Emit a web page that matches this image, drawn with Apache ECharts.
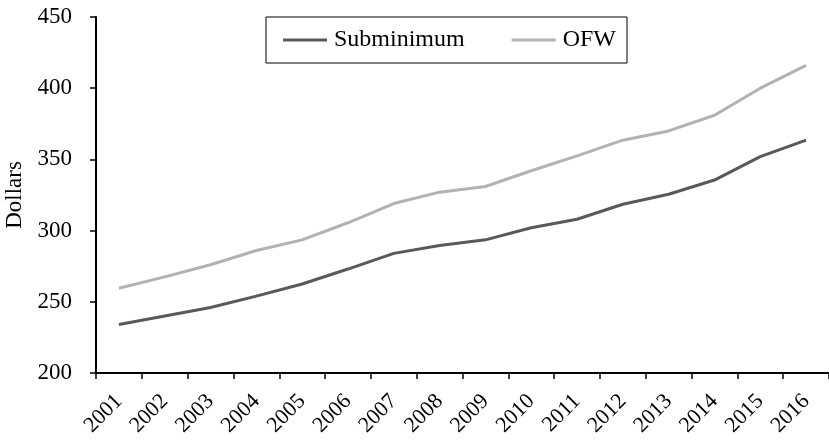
<!DOCTYPE html>
<html>
<head>
<meta charset="utf-8">
<script src="https://cdn.jsdelivr.net/npm/echarts@6/dist/echarts.min.js"></script>
<style>html,body{margin:0;padding:0;background:#fff;}#c{width:829px;height:440px;}</style>
</head>
<body>
<div id="c"></div>
<script>
const years = ['2001','2002','2003','2004','2005','2006','2007','2008','2009','2010','2011','2012','2013','2014','2015','2016'];
const subminimum = [234, 240, 246, 254, 262.5, 273, 284, 289.5, 293.5, 302, 308, 318.5, 325.5, 335.5, 352, 363.5];
const ofw = [259.5, 267.5, 276, 286, 293.5, 305.5, 319, 327, 331, 342, 352.5, 363.5, 370, 381, 400, 416];
const yTicks = { min: 200, max: 450, interval: 50 };

const FONT = '"Liberation Serif", "Times New Roman", serif';
const chart = echarts.init(document.getElementById('c'), null, { renderer: 'canvas' });
chart.setOption({
  animation: false,
  backgroundColor: '#fff',
  grid: { left: 96, right: 0, top: 17, bottom: 67, containLabel: false, outerBoundsMode: 'none' },
  legend: {
    left: 266, top: 17,
    padding: [11, 11, 11, 17],
    borderColor: '#000', borderWidth: 1,
    itemWidth: 44, itemHeight: 3, itemGap: 47,
    icon: 'rect',
    textStyle: { fontFamily: FONT, fontSize: 24, color: '#000', padding: [0, 0, 0, 2] },
    data: ['Subminimum', 'OFW']
  },
  xAxis: {
    type: 'category',
    data: years,
    boundaryGap: true,
    axisLine: { lineStyle: { color: '#000', width: 2 } },
    axisTick: { show: true, length: 6, lineStyle: { color: '#000', width: 1.5 } },
    axisLabel: { rotate: 45, color: '#000', fontFamily: FONT, fontSize: 22, margin: 25, interval: 0, hideOverlap: false },
    splitLine: { show: false }
  },
  yAxis: {
    type: 'value',
    min: yTicks.min, max: yTicks.max, interval: yTicks.interval,
    name: 'Dollars',
    nameLocation: 'middle',
    nameRotate: 90,
    nameGap: 65,
    nameTextStyle: { fontFamily: FONT, fontSize: 23, color: '#000' },
    axisLine: { show: true, lineStyle: { color: '#000', width: 2 } },
    axisTick: { show: true, length: 6, lineStyle: { color: '#000', width: 1.5 } },
    axisLabel: { color: '#000', fontFamily: FONT, fontSize: 23, margin: 24 },
    splitLine: { show: false }
  },
  series: [
    { name: 'Subminimum', type: 'line', data: subminimum, symbol: 'none', smooth: false,
      color: '#595959', lineStyle: { width: 3, color: '#595959' } },
    { name: 'OFW', type: 'line', data: ofw, symbol: 'none', smooth: false,
      color: '#b2b2b2', lineStyle: { width: 3, color: '#b2b2b2' } }
  ]
});
</script>
</body>
</html>
